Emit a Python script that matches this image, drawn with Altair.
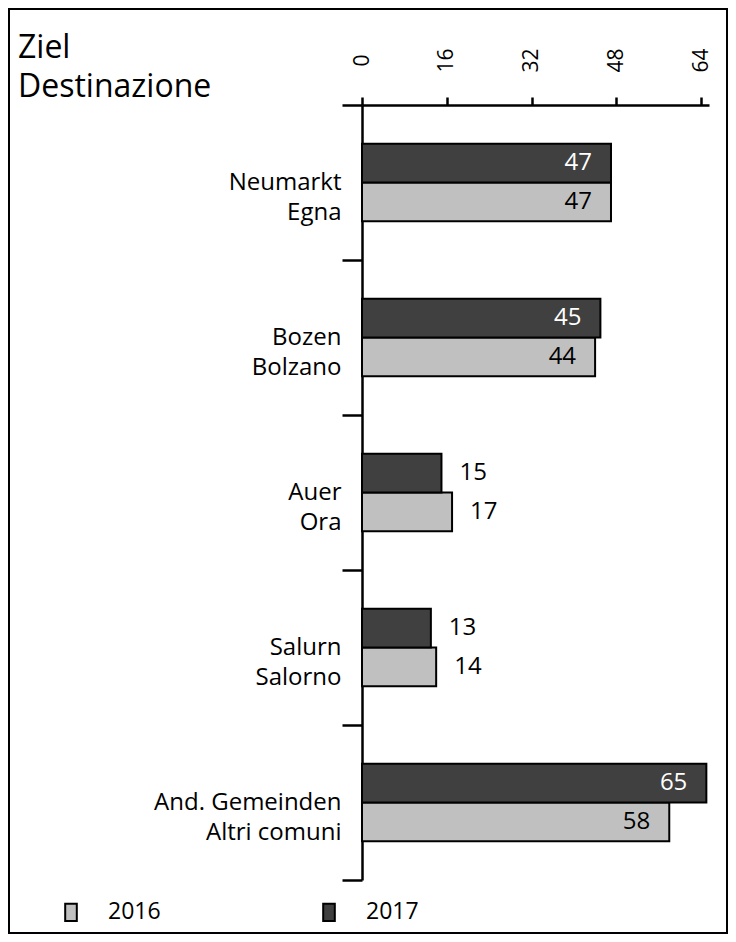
import altair as alt
import pandas as pd

categories = ["Neumarkt|Egna", "Bozen|Bolzano", "Auer|Ora", "Salurn|Salorno", "And. Gemeinden|Altri comuni"]
values_2016 = [47, 44, 17, 14, 58]
values_2017 = [47, 45, 15, 13, 65]
years = ["2016", "2017"]
x_ticks = [0, 16, 32, 48, 64]
colors = ["#c0c0c0", "#404040"]

rows = []
for c, a, b in zip(categories, values_2016, values_2017):
    rows.append({"cat": c, "year": "2016", "value": a})
    rows.append({"cat": c, "year": "2017", "value": b})
df = pd.DataFrame(rows)

FONT = "Open Sans"

base = alt.Chart(df)

y_enc = alt.Y(
    "cat:N", sort=categories,
    scale=alt.Scale(paddingInner=0, paddingOuter=0),
    axis=alt.Axis(
        title=None, orient="left", labelExpr="split(datum.label, '|')",
        labelFontSize=24, labelLineHeight=30, labelAlign="right", labelBaseline="middle",
        labelFont=FONT, labelColor="black", labelPadding=1, labelLimit=0,
        tickBand="extent", tickSize=20, tickWidth=2.5, tickColor="black",
        domainWidth=2.5, domainColor="black", grid=False,
    ),
)
yoff_enc = alt.YOffset("year:N", sort=["2017", "2016"], scale=alt.Scale(paddingInner=0, paddingOuter=1.0))
x_enc = alt.X(
    "value:Q",
    scale=alt.Scale(domain=[0, 65.5], nice=False, zero=True),
    axis=alt.Axis(
        title=None, orient="top", values=x_ticks, labelAngle=270,
        labelAlign="center", labelBaseline="middle", labelPadding=37,
        labelFontSize=21, labelFont=FONT, labelColor="black",
        tickSize=8, tickWidth=2.5, tickColor="black",
        domainWidth=2.5, domainColor="black", grid=False,
    ),
)

bars = base.mark_bar(stroke="black", strokeWidth=2).encode(
    y=y_enc, yOffset=yoff_enc, x=x_enc,
    color=alt.Color(
        "year:N",
        scale=alt.Scale(domain=years, range=colors),
        legend=alt.Legend(
            title=None, orient="none", legendX=-302.5, legendY=795.5,
            direction="horizontal", columns=2, padding=0,
            symbolType="M-0.67,-1L0.67,-1L0.67,1L-0.67,1Z", symbolSize=300,
            symbolStrokeColor="black", symbolStrokeWidth=2,
            labelFontSize=23, labelFont=FONT, labelColor="black",
            labelOffset=25.5, columnPadding=156,
        ),
    ),
)

labels_in = base.transform_filter("datum.value > 20").mark_text(
    align="right", baseline="middle", dx=-19, fontSize=24, font=FONT
).encode(
    y=alt.Y("cat:N", sort=categories), yOffset=alt.YOffset("year:N", sort=["2017", "2016"]),
    x="value:Q", text="value:Q",
    color=alt.condition("datum.year == '2017'", alt.value("white"), alt.value("black")),
)

labels_out = base.transform_filter("datum.value <= 20").mark_text(
    align="left", baseline="middle", dx=18, fontSize=24, font=FONT, color="black"
).encode(
    y=alt.Y("cat:N", sort=categories), yOffset=alt.YOffset("year:N", sort=["2017", "2016"]),
    x="value:Q", text="value:Q",
)

one = alt.Data(values=[{}])
title = alt.Chart(one).mark_text(
    align="left", baseline="alphabetic", fontSize=32, lineHeight=39, lineBreak="\n",
    font=FONT, color="black"
).encode(x=alt.value(-344), y=alt.value(-47), text=alt.value("Ziel\nDestinazione"))

frame = alt.Chart(one).mark_rect(fillOpacity=0, stroke="black", strokeWidth=2).encode(
    x=alt.value(-353), x2=alt.value(365), y=alt.value(-96), y2=alt.value(828)
)

chart = alt.layer(bars, labels_in, labels_out, title, frame).properties(
    width=347, height=775,
    autosize=alt.AutoSizeParams(type="none"),
    padding={"left": 354, "top": 97, "right": 19, "bottom": 54},
).configure_view(stroke=None)

chart.save("out.html", embed_options={"renderer": "svg", "actions": False})
